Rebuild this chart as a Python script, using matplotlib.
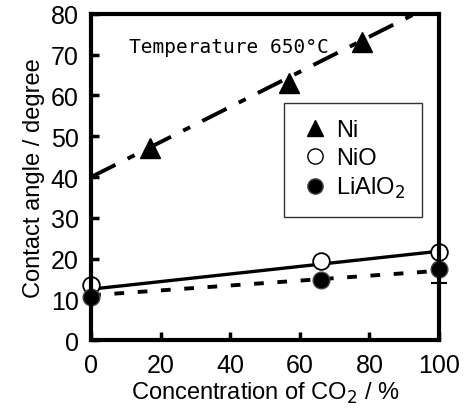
import matplotlib
matplotlib.use("Agg")
import matplotlib.pyplot as plt
from matplotlib.lines import Line2D

plt.rcParams['font.family'] = ['Liberation Sans', 'DejaVu Sans']

# data
ni_x = [17, 57, 78]
ni_y = [47, 63, 73]
nio_x = [0, 66, 100]
nio_y = [13.5, 19.5, 21.5]
lialo_x = [0, 66, 100]
lialo_y = [10.5, 14.8, 17.5]
lialo_err = [0, 0, 3.5]
fit_x = [0, 100]
ni_fit = [40, 83]
nio_fit = [12.5, 21.8]
lialo_fit = [11.0, 17.0]
xticks = [0, 20, 40, 60, 80, 100]
yticks = [0, 10, 20, 30, 40, 50, 60, 70, 80]

fig = plt.figure(figsize=(4.65, 4.14), dpi=100)
ax = fig.add_axes([0.196, 0.176, 0.748, 0.788])

ax.plot(fit_x, ni_fit, color='black', lw=2.8, dashes=(7, 3.5, 2, 3.5))
ax.plot(fit_x, nio_fit, color='black', lw=2.4, ls='-')
ax.plot(fit_x, lialo_fit, color='black', lw=2.8, dashes=(2.5, 3.5))

ax.plot(ni_x, ni_y, ls='none', marker='^', ms=14, color='black', clip_on=False)
ax.errorbar(lialo_x, lialo_y, yerr=lialo_err, fmt='o', ms=12, color='black',
            mfc='black', mec='#444444', capsize=6, elinewidth=1.5, capthick=1.5, clip_on=False)
ax.plot(nio_x, nio_y, ls='none', marker='o', ms=12, mfc='white', mec='black', mew=1.3, clip_on=False)

ax.text(10.8, 72, 'Temperature 650°C', family='DejaVu Sans Mono', fontsize=14, va='center',
        ha='left')

ax.set_xlim(0, 100)
ax.set_ylim(0, 80)
ax.set_xticks(xticks)
ax.set_yticks(yticks)
ax.tick_params(direction='in', length=6, width=2.5, labelsize=18, pad=9)
for s in ax.spines.values():
    s.set_linewidth(3)

ax.set_xlabel('Concentration of CO$_2$ / %', fontsize=17, labelpad=2)
ax.set_ylabel('Contact angle / degree', fontsize=17, labelpad=4)

handles = [
    Line2D([], [], ls='none', marker='^', ms=12, color='black'),
    Line2D([], [], ls='none', marker='o', ms=11, mfc='white', mec='black'),
    Line2D([], [], ls='none', marker='o', ms=11, mfc='black', mec='#444444'),
]
leg = ax.legend(handles, ['Ni', 'NiO', 'LiAlO$_2$'], loc='upper left',
                bbox_to_anchor=(0.555, 0.727), fontsize=17, frameon=True,
                fancybox=False, edgecolor='black', handletextpad=0.3,
                borderpad=0.7, labelspacing=0.25, handlelength=1.2,
                borderaxespad=0)
leg.get_frame().set_linewidth(1.0)

fig.savefig('out.png', dpi=100)
